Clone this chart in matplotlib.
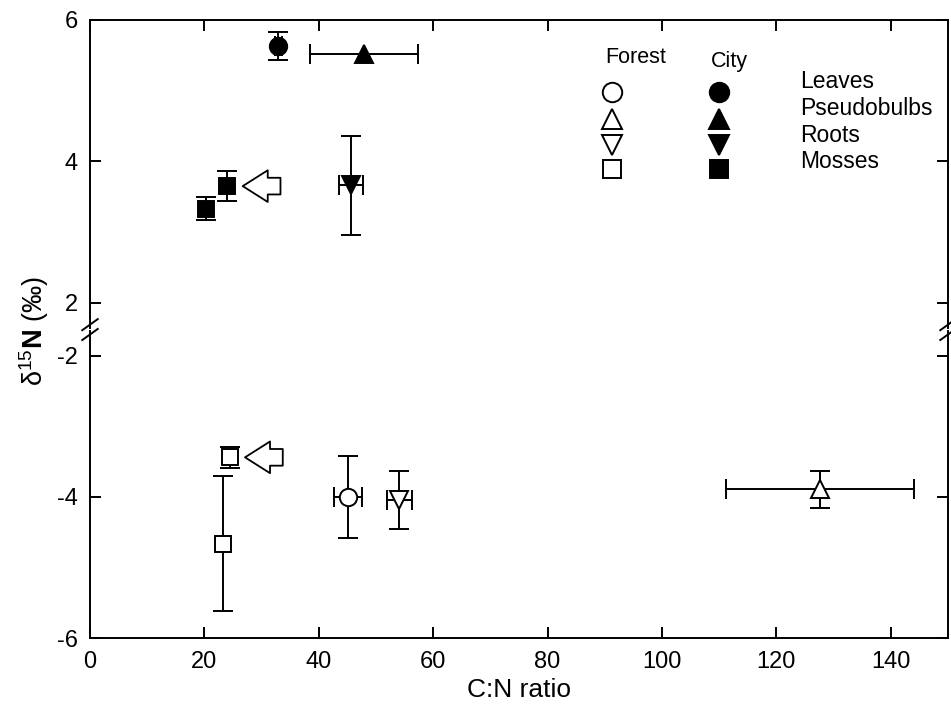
import numpy as np
import matplotlib
matplotlib.use('Agg')
import matplotlib.pyplot as plt

plt.rcParams['font.family'] = ['Liberation Sans', 'DejaVu Sans']
plt.rcParams['axes.unicode_minus'] = False
plt.rcParams['mathtext.fontset'] = 'custom'
plt.rcParams['mathtext.rm'] = 'Liberation Sans'
plt.rcParams['mathtext.bf'] = 'Liberation Sans:bold'

tissues = ['Leaves', 'Pseudobulbs', 'Roots', 'Mosses']

# forest samples (open symbols)
forest_tissue = ['Leaves', 'Pseudobulbs', 'Roots', 'Mosses', 'Mosses']
forest_cn = [45.1, 127.6, 54.1, 24.5, 23.3]
forest_d15n = [-4.00, -3.89, -4.05, -3.44, -4.66]
forest_cn_err = [2.5, 16.4, 2.2, 0, 0]
forest_d15n_err = [0.58, 0.26, 0.41, 0.15, 0.95]

# city samples (filled symbols)
city_tissue = ['Leaves', 'Pseudobulbs', 'Roots', 'Mosses', 'Mosses']
city_cn = [32.9, 47.9, 45.7, 20.2, 23.9]
city_d15n = [5.63, 5.52, 3.66, 3.33, 3.65]
city_cn_err = [0.6, 9.5, 2.1, 0, 0]
city_d15n_err = [0.20, 0, 0.70, 0.16, 0.21]

# arrows pointing at the mosses (tail x, head x, y)
arrow_tail = [33.3, 33.7]
arrow_head = [26.7, 27.1]
arrow_y = [3.65, -3.44]

markers = {'Leaves': 'o', 'Pseudobulbs': '^', 'Roots': 'v', 'Mosses': 's'}
msize = {'Leaves': 12.5, 'Pseudobulbs': 13, 'Roots': 13, 'Mosses': 11.5}

fig = plt.figure(figsize=(9.51, 7.11), dpi=100)
ax_top = fig.add_axes([90/951, (711-327.5)/711, 858/951, 307.5/711])
ax_bot = fig.add_axes([90/951, 72.7/711, 858/951, (638.3-330.8)/711])

for ax in (ax_top, ax_bot):
    ax.set_xlim(0, 150)
    ax.set_xticks(np.arange(0, 141, 20))
    for s in ax.spines.values():
        s.set_linewidth(1.4)
    ax.tick_params(direction='in', length=8, width=1.4, labelsize=17, pad=9,
                   right=True, top=(ax is ax_top), bottom=(ax is ax_bot))

ax_top.set_ylim(1.65, 6)
ax_top.set_yticks([2, 4, 6])
ax_top.spines['bottom'].set_visible(False)
ax_top.tick_params(labelbottom=False)

ax_bot.set_ylim(-6, -1.65)
ax_bot.set_yticks([-6, -4, -2])
ax_bot.spines['top'].set_visible(False)

def draw(ax, tissue, x, y, xe, ye, filled):
    for t, xi, yi, xei, yei in zip(tissue, x, y, xe, ye):
        ax.errorbar(xi, yi, xerr=xei if xei else None, yerr=yei if yei else None,
                    fmt=markers[t], ms=msize[t], mfc='black' if filled else 'white',
                    mec='black', mew=1.4, ecolor='black', elinewidth=1.4,
                    capsize=7, capthick=1.4, zorder=3)

draw(ax_bot, forest_tissue, forest_cn, forest_d15n, forest_cn_err, forest_d15n_err, False)
draw(ax_top, city_tissue, city_cn, city_d15n, city_cn_err, city_d15n_err, True)

for ax, xt, xh, ya in zip((ax_top, ax_bot), arrow_tail, arrow_head, arrow_y):
    ax.annotate('', xy=(xh, ya), xytext=(xt, ya),
                arrowprops=dict(arrowstyle='simple,head_length=0.75,head_width=0.95,tail_width=0.5',
                                fc='white', ec='black', lw=1.3, shrinkA=0, shrinkB=0,
                                mutation_scale=24))

# break marks
for xa in (0, 1):
    for dy in (-0.012, 0.020):
        ax_bot.plot([xa - 0.009, xa + 0.009], [1.0 + dy - 0.018, 1.0 + dy + 0.018],
                    transform=ax_bot.transAxes, color='black', lw=1.4, clip_on=False)

# hand-made legend
ax_top.text(0.636, 0.879, 'Forest', transform=ax_top.transAxes, ha='center', va='center', fontsize=15.5)
ax_top.text(0.745, 0.866, 'City', transform=ax_top.transAxes, ha='center', va='center', fontsize=15.5)
leg_marker_y = [0.765, 0.678, 0.593, 0.514]
leg_text_y = [0.799, 0.713, 0.626, 0.539]
for t, ym, yt in zip(tissues, leg_marker_y, leg_text_y):
    ax_top.plot(0.608, ym, markers[t], ms=msize[t] + 1.5, mfc='white', mec='black', mew=1.4,
                transform=ax_top.transAxes, clip_on=False)
    ax_top.plot(0.733, ym, markers[t], ms=msize[t] + 1.5, mfc='black', mec='black', mew=1.4,
                transform=ax_top.transAxes, clip_on=False)
    ax_top.text(0.8275, yt, t, transform=ax_top.transAxes, ha='left', va='center', fontsize=16.5)

ax_bot.set_xlabel('C:N ratio', fontsize=19, labelpad=4)
fig.text(0.036, 0.535, r'δ$^{15}$$\mathbf{N}$ (‰)', rotation=90, ha='center', va='center', fontsize=19.5)

fig.savefig('out.png', dpi=100)
